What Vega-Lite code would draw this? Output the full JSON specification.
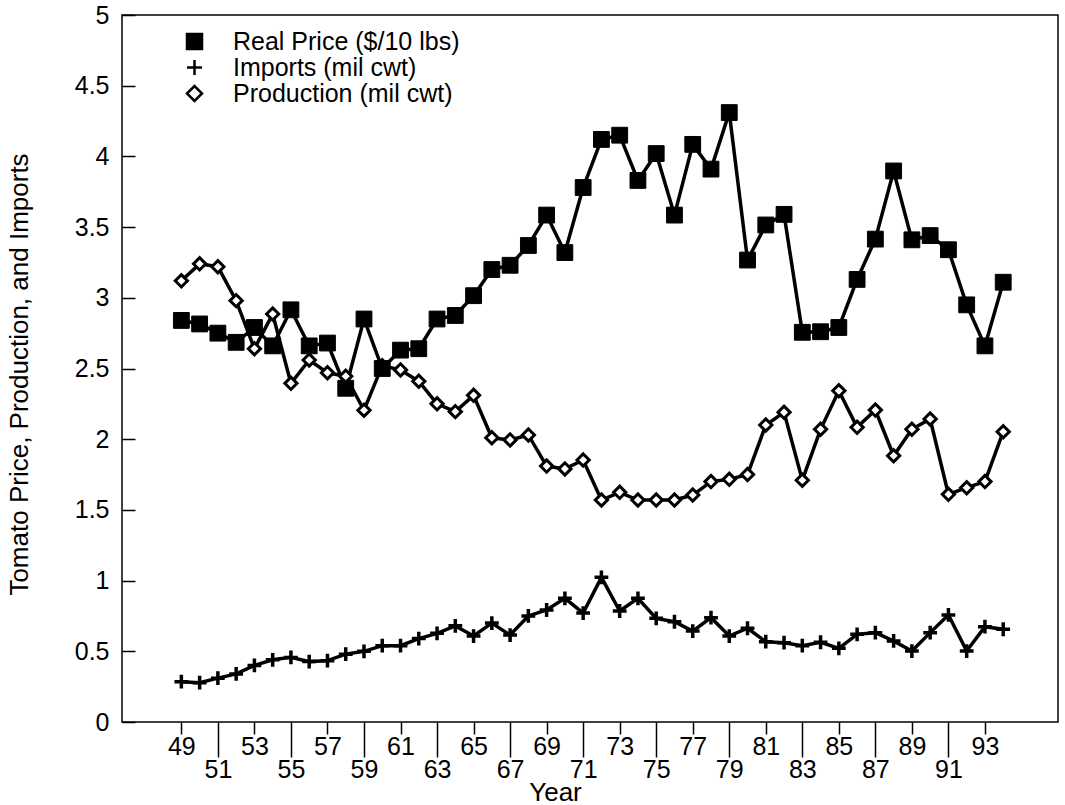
{
  "$schema": "https://vega.github.io/schema/vega-lite/v6.json",
  "width": 936,
  "height": 707,
  "autosize": {"type": "none"},
  "padding": {"left": 122, "top": 15, "right": 7, "bottom": 83},
  "background": "white",
  "config": {
    "view": {"stroke": "black", "strokeWidth": 1.5},
    "axis": {
      "domain": false,
      "grid": false,
      "labelFont": "Liberation Sans",
      "labelFontSize": 25,
      "labelColor": "black",
      "tickColor": "black",
      "tickWidth": 1.5,
      "titleFont": "Liberation Sans",
      "titleFontSize": 26,
      "titleFontWeight": "normal",
      "titleColor": "black"
    },
    "legend": {
      "labelFont": "Liberation Sans",
      "labelFontSize": 25,
      "labelColor": "black",
      "labelLimit": 0
    }
  },
  "data": {
    "values": [
      {"year": 49, "series": "Imports (mil cwt)", "value": 0.285},
      {"year": 50, "series": "Imports (mil cwt)", "value": 0.278},
      {"year": 51, "series": "Imports (mil cwt)", "value": 0.31},
      {"year": 52, "series": "Imports (mil cwt)", "value": 0.34},
      {"year": 53, "series": "Imports (mil cwt)", "value": 0.4},
      {"year": 54, "series": "Imports (mil cwt)", "value": 0.44},
      {"year": 55, "series": "Imports (mil cwt)", "value": 0.457},
      {"year": 56, "series": "Imports (mil cwt)", "value": 0.427},
      {"year": 57, "series": "Imports (mil cwt)", "value": 0.434},
      {"year": 58, "series": "Imports (mil cwt)", "value": 0.48},
      {"year": 59, "series": "Imports (mil cwt)", "value": 0.5},
      {"year": 60, "series": "Imports (mil cwt)", "value": 0.54},
      {"year": 61, "series": "Imports (mil cwt)", "value": 0.54},
      {"year": 62, "series": "Imports (mil cwt)", "value": 0.59},
      {"year": 63, "series": "Imports (mil cwt)", "value": 0.627},
      {"year": 64, "series": "Imports (mil cwt)", "value": 0.68},
      {"year": 65, "series": "Imports (mil cwt)", "value": 0.608},
      {"year": 66, "series": "Imports (mil cwt)", "value": 0.7},
      {"year": 67, "series": "Imports (mil cwt)", "value": 0.615},
      {"year": 68, "series": "Imports (mil cwt)", "value": 0.75},
      {"year": 69, "series": "Imports (mil cwt)", "value": 0.792},
      {"year": 70, "series": "Imports (mil cwt)", "value": 0.875},
      {"year": 71, "series": "Imports (mil cwt)", "value": 0.77},
      {"year": 72, "series": "Imports (mil cwt)", "value": 1.023},
      {"year": 73, "series": "Imports (mil cwt)", "value": 0.785},
      {"year": 74, "series": "Imports (mil cwt)", "value": 0.875},
      {"year": 75, "series": "Imports (mil cwt)", "value": 0.733},
      {"year": 76, "series": "Imports (mil cwt)", "value": 0.709},
      {"year": 77, "series": "Imports (mil cwt)", "value": 0.643},
      {"year": 78, "series": "Imports (mil cwt)", "value": 0.738},
      {"year": 79, "series": "Imports (mil cwt)", "value": 0.608},
      {"year": 80, "series": "Imports (mil cwt)", "value": 0.663},
      {"year": 81, "series": "Imports (mil cwt)", "value": 0.568},
      {"year": 82, "series": "Imports (mil cwt)", "value": 0.561},
      {"year": 83, "series": "Imports (mil cwt)", "value": 0.54},
      {"year": 84, "series": "Imports (mil cwt)", "value": 0.564},
      {"year": 85, "series": "Imports (mil cwt)", "value": 0.521},
      {"year": 86, "series": "Imports (mil cwt)", "value": 0.62},
      {"year": 87, "series": "Imports (mil cwt)", "value": 0.632},
      {"year": 88, "series": "Imports (mil cwt)", "value": 0.573},
      {"year": 89, "series": "Imports (mil cwt)", "value": 0.502},
      {"year": 90, "series": "Imports (mil cwt)", "value": 0.632},
      {"year": 91, "series": "Imports (mil cwt)", "value": 0.757},
      {"year": 92, "series": "Imports (mil cwt)", "value": 0.502},
      {"year": 93, "series": "Imports (mil cwt)", "value": 0.674},
      {"year": 94, "series": "Imports (mil cwt)", "value": 0.656},
      {"year": 49, "series": "Production (mil cwt)", "value": 3.12},
      {"year": 50, "series": "Production (mil cwt)", "value": 3.24},
      {"year": 51, "series": "Production (mil cwt)", "value": 3.22},
      {"year": 52, "series": "Production (mil cwt)", "value": 2.98},
      {"year": 53, "series": "Production (mil cwt)", "value": 2.64},
      {"year": 54, "series": "Production (mil cwt)", "value": 2.885},
      {"year": 55, "series": "Production (mil cwt)", "value": 2.395},
      {"year": 56, "series": "Production (mil cwt)", "value": 2.56},
      {"year": 57, "series": "Production (mil cwt)", "value": 2.47},
      {"year": 58, "series": "Production (mil cwt)", "value": 2.445},
      {"year": 59, "series": "Production (mil cwt)", "value": 2.205},
      {"year": 60, "series": "Production (mil cwt)", "value": 2.52},
      {"year": 61, "series": "Production (mil cwt)", "value": 2.49},
      {"year": 62, "series": "Production (mil cwt)", "value": 2.41},
      {"year": 63, "series": "Production (mil cwt)", "value": 2.25},
      {"year": 64, "series": "Production (mil cwt)", "value": 2.195},
      {"year": 65, "series": "Production (mil cwt)", "value": 2.31},
      {"year": 66, "series": "Production (mil cwt)", "value": 2.01},
      {"year": 67, "series": "Production (mil cwt)", "value": 1.995},
      {"year": 68, "series": "Production (mil cwt)", "value": 2.03},
      {"year": 69, "series": "Production (mil cwt)", "value": 1.81},
      {"year": 70, "series": "Production (mil cwt)", "value": 1.79},
      {"year": 71, "series": "Production (mil cwt)", "value": 1.853},
      {"year": 72, "series": "Production (mil cwt)", "value": 1.57},
      {"year": 73, "series": "Production (mil cwt)", "value": 1.624},
      {"year": 74, "series": "Production (mil cwt)", "value": 1.57},
      {"year": 75, "series": "Production (mil cwt)", "value": 1.57},
      {"year": 76, "series": "Production (mil cwt)", "value": 1.57},
      {"year": 77, "series": "Production (mil cwt)", "value": 1.605},
      {"year": 78, "series": "Production (mil cwt)", "value": 1.7},
      {"year": 79, "series": "Production (mil cwt)", "value": 1.716},
      {"year": 80, "series": "Production (mil cwt)", "value": 1.75},
      {"year": 81, "series": "Production (mil cwt)", "value": 2.1},
      {"year": 82, "series": "Production (mil cwt)", "value": 2.19},
      {"year": 83, "series": "Production (mil cwt)", "value": 1.71},
      {"year": 84, "series": "Production (mil cwt)", "value": 2.07},
      {"year": 85, "series": "Production (mil cwt)", "value": 2.343},
      {"year": 86, "series": "Production (mil cwt)", "value": 2.084},
      {"year": 87, "series": "Production (mil cwt)", "value": 2.206},
      {"year": 88, "series": "Production (mil cwt)", "value": 1.883},
      {"year": 89, "series": "Production (mil cwt)", "value": 2.07},
      {"year": 90, "series": "Production (mil cwt)", "value": 2.143},
      {"year": 91, "series": "Production (mil cwt)", "value": 1.61},
      {"year": 92, "series": "Production (mil cwt)", "value": 1.657},
      {"year": 93, "series": "Production (mil cwt)", "value": 1.7},
      {"year": 94, "series": "Production (mil cwt)", "value": 2.053},
      {"year": 49, "series": "Real Price ($/10 lbs)", "value": 2.84},
      {"year": 50, "series": "Real Price ($/10 lbs)", "value": 2.815},
      {"year": 51, "series": "Real Price ($/10 lbs)", "value": 2.75},
      {"year": 52, "series": "Real Price ($/10 lbs)", "value": 2.685},
      {"year": 53, "series": "Real Price ($/10 lbs)", "value": 2.79},
      {"year": 54, "series": "Real Price ($/10 lbs)", "value": 2.66},
      {"year": 55, "series": "Real Price ($/10 lbs)", "value": 2.915},
      {"year": 56, "series": "Real Price ($/10 lbs)", "value": 2.66},
      {"year": 57, "series": "Real Price ($/10 lbs)", "value": 2.68},
      {"year": 58, "series": "Real Price ($/10 lbs)", "value": 2.36},
      {"year": 59, "series": "Real Price ($/10 lbs)", "value": 2.85},
      {"year": 60, "series": "Real Price ($/10 lbs)", "value": 2.5},
      {"year": 61, "series": "Real Price ($/10 lbs)", "value": 2.63},
      {"year": 62, "series": "Real Price ($/10 lbs)", "value": 2.64},
      {"year": 63, "series": "Real Price ($/10 lbs)", "value": 2.85},
      {"year": 64, "series": "Real Price ($/10 lbs)", "value": 2.875},
      {"year": 65, "series": "Real Price ($/10 lbs)", "value": 3.015},
      {"year": 66, "series": "Real Price ($/10 lbs)", "value": 3.2},
      {"year": 67, "series": "Real Price ($/10 lbs)", "value": 3.23},
      {"year": 68, "series": "Real Price ($/10 lbs)", "value": 3.37},
      {"year": 69, "series": "Real Price ($/10 lbs)", "value": 3.585},
      {"year": 70, "series": "Real Price ($/10 lbs)", "value": 3.32},
      {"year": 71, "series": "Real Price ($/10 lbs)", "value": 3.78},
      {"year": 72, "series": "Real Price ($/10 lbs)", "value": 4.12},
      {"year": 73, "series": "Real Price ($/10 lbs)", "value": 4.15},
      {"year": 74, "series": "Real Price ($/10 lbs)", "value": 3.83},
      {"year": 75, "series": "Real Price ($/10 lbs)", "value": 4.02},
      {"year": 76, "series": "Real Price ($/10 lbs)", "value": 3.585},
      {"year": 77, "series": "Real Price ($/10 lbs)", "value": 4.085},
      {"year": 78, "series": "Real Price ($/10 lbs)", "value": 3.91},
      {"year": 79, "series": "Real Price ($/10 lbs)", "value": 4.31},
      {"year": 80, "series": "Real Price ($/10 lbs)", "value": 3.267},
      {"year": 81, "series": "Real Price ($/10 lbs)", "value": 3.515},
      {"year": 82, "series": "Real Price ($/10 lbs)", "value": 3.59},
      {"year": 83, "series": "Real Price ($/10 lbs)", "value": 2.756},
      {"year": 84, "series": "Real Price ($/10 lbs)", "value": 2.76},
      {"year": 85, "series": "Real Price ($/10 lbs)", "value": 2.79},
      {"year": 86, "series": "Real Price ($/10 lbs)", "value": 3.13},
      {"year": 87, "series": "Real Price ($/10 lbs)", "value": 3.415},
      {"year": 88, "series": "Real Price ($/10 lbs)", "value": 3.897},
      {"year": 89, "series": "Real Price ($/10 lbs)", "value": 3.41},
      {"year": 90, "series": "Real Price ($/10 lbs)", "value": 3.44},
      {"year": 91, "series": "Real Price ($/10 lbs)", "value": 3.34},
      {"year": 92, "series": "Real Price ($/10 lbs)", "value": 2.95},
      {"year": 93, "series": "Real Price ($/10 lbs)", "value": 2.66},
      {"year": 94, "series": "Real Price ($/10 lbs)", "value": 3.11}
    ]
  },
  "encoding": {
    "x": {
      "field": "year",
      "type": "quantitative",
      "scale": {"domain": [45.75, 97], "nice": false, "zero": false},
      "axis": {
        "title": "Year",
        "values": [49, 51, 53, 55, 57, 59, 61, 63, 65, 67, 69, 71, 73, 75, 77, 79, 81, 83, 85, 87, 89, 91, 93],
        "tickSize": {"condition": {"test": "datum.value % 4 === 3", "value": 35}, "value": 12},
        "labelPadding": 0,
        "labelOverlap": false,
        "labelFlush": false,
        "labelAlign": "center",
        "labelBaseline": "top",
        "titleX": 433,
        "titleY": 78,
        "titleBaseline": "alphabetic",
        "titleAlign": "center"
      }
    },
    "y": {
      "field": "value",
      "type": "quantitative",
      "scale": {"domain": [0, 5], "nice": false, "zero": true},
      "axis": {
        "title": "Tomato Price, Production, and Imports",
        "values": [0, 0.5, 1, 1.5, 2, 2.5, 3, 3.5, 4, 4.5, 5],
        "format": "~g",
        "tickSize": -13,
        "labelPadding": 26,
        "labelOverlap": false,
        "labelFlush": false,
        "titleX": -95,
        "titleY": 359,
        "titleBaseline": "alphabetic",
        "titleAlign": "center",
        "titleAngle": 270
      }
    }
  },
  "layer": [
    {
      "mark": {"type": "line", "color": "black", "strokeWidth": 3.5},
      "encoding": {
        "detail": {"field": "series", "type": "nominal"}
      }
    },
    {
      "mark": {"type": "point", "filled": false, "stroke": "black", "color": "black", "opacity": 1},
      "encoding": {
        "shape": {
          "field": "series",
          "type": "nominal",
          "scale": {
            "domain": ["Real Price ($/10 lbs)", "Imports (mil cwt)", "Production (mil cwt)"],
            "range": ["square", "M-1,0H1M0,-1V1", "diamond"]
          },
          "legend": {
            "title": null,
            "orient": "none",
            "legendX": 60,
            "legendY": 14,
            "padding": 0,
            "symbolSize": 225,
            "symbolStrokeWidth": 2.5,
            "labelOffset": 26,
            "rowPadding": -1,
            "labelLimit": 0
          }
        },
        "fill": {
          "field": "series",
          "type": "nominal",
          "scale": {
            "domain": ["Real Price ($/10 lbs)", "Imports (mil cwt)", "Production (mil cwt)"],
            "range": ["black", "transparent", "white"]
          },
          "legend": {
            "title": null,
            "orient": "none",
            "legendX": 60,
            "legendY": 14,
            "padding": 0,
            "symbolSize": 225,
            "symbolStrokeWidth": 2.5,
            "labelOffset": 26,
            "rowPadding": -1,
            "labelLimit": 0
          }
        },
        "stroke": {
          "field": "series",
          "type": "nominal",
          "scale": {
            "domain": ["Real Price ($/10 lbs)", "Imports (mil cwt)", "Production (mil cwt)"],
            "range": ["black", "black", "black"]
          },
          "legend": {
            "title": null,
            "orient": "none",
            "legendX": 60,
            "legendY": 14,
            "padding": 0,
            "symbolSize": 225,
            "symbolStrokeWidth": 2.5,
            "labelOffset": 26,
            "rowPadding": -1,
            "labelLimit": 0
          }
        },
        "size": {
          "condition": [
            {"test": "datum.series === 'Real Price ($/10 lbs)'", "value": 250},
            {"test": "datum.series === 'Imports (mil cwt)'", "value": 190}
          ],
          "value": 150
        },
        "strokeWidth": {
          "condition": [
            {"test": "datum.series === 'Real Price ($/10 lbs)'", "value": 1},
            {"test": "datum.series === 'Imports (mil cwt)'", "value": 3.5}
          ],
          "value": 3
        }
      }
    }
  ]
}
